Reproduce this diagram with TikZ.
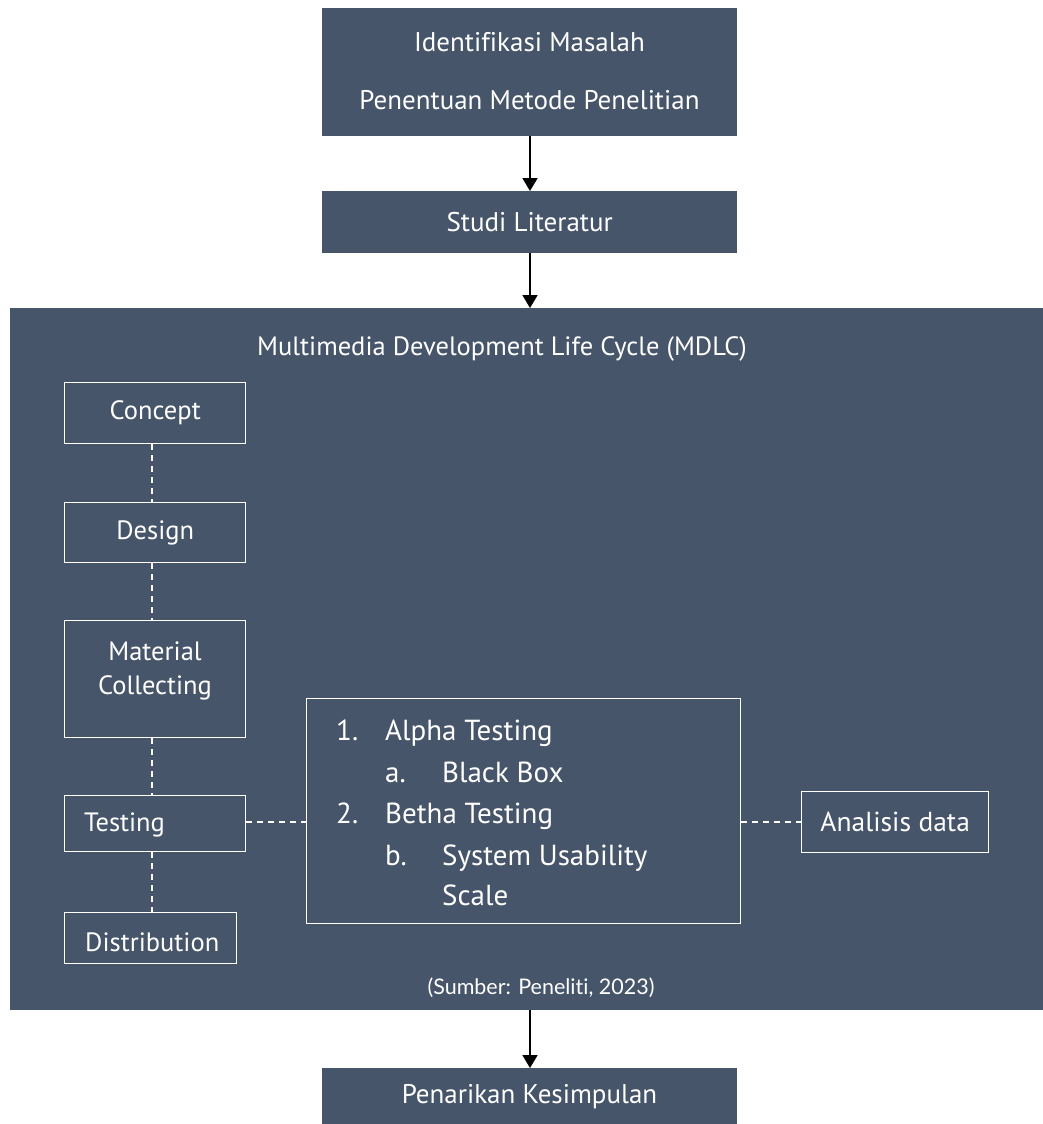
\documentclass[tikz,border=0pt]{standalone}
\usepackage{fontspec}
\setmainfont[Ligatures=NoCommon]{PT Sans}
\newfontfamily\srcfont[Ligatures=NoCommon]{Lato}
\usetikzlibrary{arrows.meta}
\definecolor{slate}{HTML}{465569}
\tikzset{
  darkbox/.style={fill=slate, draw=none, text=white, inner sep=0pt},
  framebox/.style={draw=white, line width=1.4pt, fill=slate, inner sep=0pt, text=white},
  flow/.style={line width=1.8pt, -{Triangle[width=15pt,length=13pt]}},
  dashlink/.style={draw=white, line width=1.4pt, dash pattern=on 6pt off 5pt},
  maintxt/.style={text=white, font=\fontsize{27}{31}\selectfont, inner sep=0pt},
  stagetxt/.style={text=white, font=\fontsize{26.5}{30}\selectfont, inner sep=0pt},
  listtxt/.style={text=white, font=\fontsize{29}{34}\selectfont, inner sep=0pt, anchor=base west}
}
\begin{document}
\begin{tikzpicture}[x=1pt,y=-1pt]
\useasboundingbox (0,0) rectangle (1043,1124);
% top boxes
\node[darkbox, minimum width=415pt, minimum height=128pt, anchor=north west] (top) at (322,8) {};
\node[maintxt] (t1) at (529.5,42) {Identifikasi Masalah};
\node[maintxt] (t2) at (529.5,100) {Penentuan Metode Penelitian};
\node[darkbox, minimum width=415pt, minimum height=62pt, anchor=north west] (studi) at (322,191) {};
\node[maintxt] at (studi.center) {Studi Literatur};
% MDLC
\node[darkbox, minimum width=1033pt, minimum height=702pt, anchor=north west] (mdlc) at (10,308) {};
\node[maintxt, font=\fontsize{26.5}{30}\selectfont] (mdlct) at (502,349) {Multimedia Development Life Cycle (MDLC)};
\node[framebox, minimum width=181pt, minimum height=61pt, anchor=north west] (concept) at (64,382) {};
\node[stagetxt] at (concept.center) {Concept};
\node[framebox, minimum width=181pt, minimum height=60pt, anchor=north west] (design) at (64,502) {};
\node[stagetxt] at (design.center) {Design};
\node[framebox, minimum width=181pt, minimum height=117pt, anchor=north west] (material) at (64,620) {};
\node[stagetxt] at (155,651) {Material};
\node[stagetxt] at (155,688) {Collecting};
\node[framebox, minimum width=181pt, minimum height=56pt, anchor=north west] (testing) at (64,795) {};
\node[stagetxt, anchor=west] at (84,825) {Testing};
\node[framebox, minimum width=172pt, minimum height=51pt, anchor=north west] (distrib) at (64,912) {};
\node[stagetxt, anchor=west] at (85,942) {Distribution};
\node[framebox, minimum width=434pt, minimum height=225pt, anchor=north west] (list) at (306,698) {};
\node[listtxt] at (336,740) {1.};
\node[listtxt] at (385,740) {Alpha Testing};
\node[listtxt] at (385,782) {a.};
\node[listtxt] at (442,782) {Black Box};
\node[listtxt] at (336,823) {2.};
\node[listtxt] at (385,823) {Betha Testing};
\node[listtxt] at (385,865) {b.};
\node[listtxt] at (442,865) {System Usability};
\node[listtxt] at (442,905) {Scale};
\node[framebox, minimum width=187pt, minimum height=61pt, anchor=north west] (analisis) at (801,791) {};
\node[stagetxt, font=\fontsize{27.5}{31}\selectfont] at (analisis.center) {Analisis data};
\node[text=white, inner sep=0pt, font=\srcfont\fontsize{21.5}{25}\selectfont] (src) at (541,988) {(Sumber: Peneliti, 2023)};
% bottom
\node[darkbox, minimum width=415pt, minimum height=56pt, anchor=north west] (kesimpulan) at (322,1068) {};
\node[maintxt] at (529.5,1097) {Penarikan Kesimpulan};
% dashed links
\draw[dashlink] (concept.south -| 152,0) -- (design.north -| 152,0);
\draw[dashlink] (design.south -| 152,0) -- (material.north -| 152,0);
\draw[dashlink] (material.south -| 152,0) -- (testing.north -| 152,0);
\draw[dashlink] (testing.south -| 152,0) -- (distrib.north -| 152,0);
\draw[dashlink] (testing.east |- 0,822) -- (list.west |- 0,822);
\draw[dashlink] (list.east |- 0,822) -- (analisis.west |- 0,822);
% arrows
\draw[flow] (top.south -| 530,0) -- (studi.north -| 530,0);
\draw[flow] (studi.south -| 530,0) -- (mdlc.north -| 530,0);
\draw[flow] (mdlc.south -| 530,0) -- (kesimpulan.north -| 530,0);
\end{tikzpicture}
\end{document}
